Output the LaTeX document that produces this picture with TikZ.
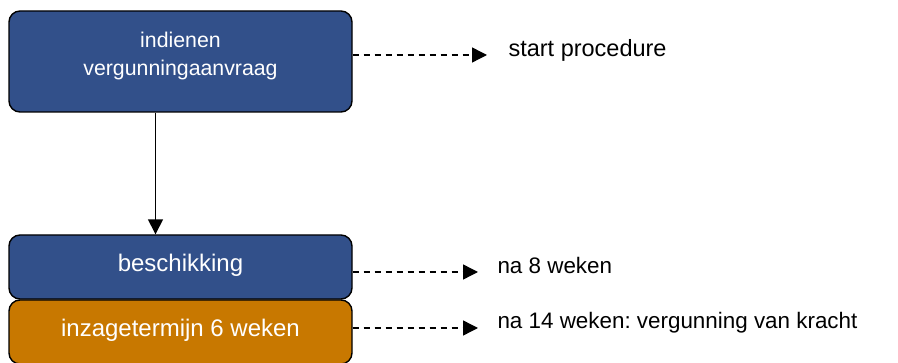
\documentclass[tikz,border=0pt]{standalone}
\usepackage{fontspec}
\setmainfont{Liberation Sans}
\usepackage{tikz}
\usetikzlibrary{arrows.meta,positioning,calc}
\definecolor{stepblue}{RGB}{50,80,138}
\definecolor{steporange}{RGB}{200,120,0}
\frenchspacing

\begin{document}
\begin{tikzpicture}[
      x=1pt, y=-1pt,
      phase/.style={draw=black, line width=1.4pt, fill=stepblue,
        minimum width=343pt, align=center, rounded corners=11pt,
        text=white, font=\fontsize{24}{28}\selectfont},
      note/.style={anchor=west, font=\fontsize{22.4}{26}\selectfont},
      flow/.style={-{Triangle[length=15pt,width=15pt]}, line width=1.5pt},
      later/.style={-{Triangle[length=15pt,width=15pt]}, line width=1.4pt,
        dash pattern=on 6pt off 5pt},
    ]
    \useasboundingbox (0,0) rectangle (898,363);
    % Steps
    \node[phase, minimum height=101pt, text depth=16pt,
      font=\fontsize{21.3}{28}\selectfont]
      (aanvraag) at (180.5,61.5) {indienen\\vergunningaanvraag};
    \node[phase, minimum height=64pt, text depth=9pt]
      (beschikking) at (180.5,267) {beschikking};
    \node[phase, minimum height=64pt, text depth=9pt, fill=steporange]
      (inzage) at (180.5,332) {inzagetermijn 6 weken};

    % Notes
    \node[note, font=\fontsize{23.5}{27}\selectfont]
      (start) at (505,50) {start procedure};
    \node[note] (acht) at (494,265) {na 8 weken};
    \node[note] (veertien) at (494,323) {na 14 weken: vergunning van kracht};

    % Connectors
    \draw[flow] ([xshift=-25pt]aanvraag.south) -- ([xshift=-25pt]beschikking.north);
    \coordinate (s1) at ($(aanvraag.east)+(0,-6.5)$);
    \coordinate (s2) at ($(beschikking.east)+(0,5)$);
    \coordinate (s3) at ($(inzage.east)+(0,-4)$);
    \draw[later] (s1) -- ([xshift=-18pt]s1 -| start.west);
    \draw[later] (s2) -- ([xshift=-16pt]s2 -| acht.west);
    \draw[later] (s3) -- ([xshift=-16pt]s3 -| veertien.west);
  \end{tikzpicture}
\end{document}
